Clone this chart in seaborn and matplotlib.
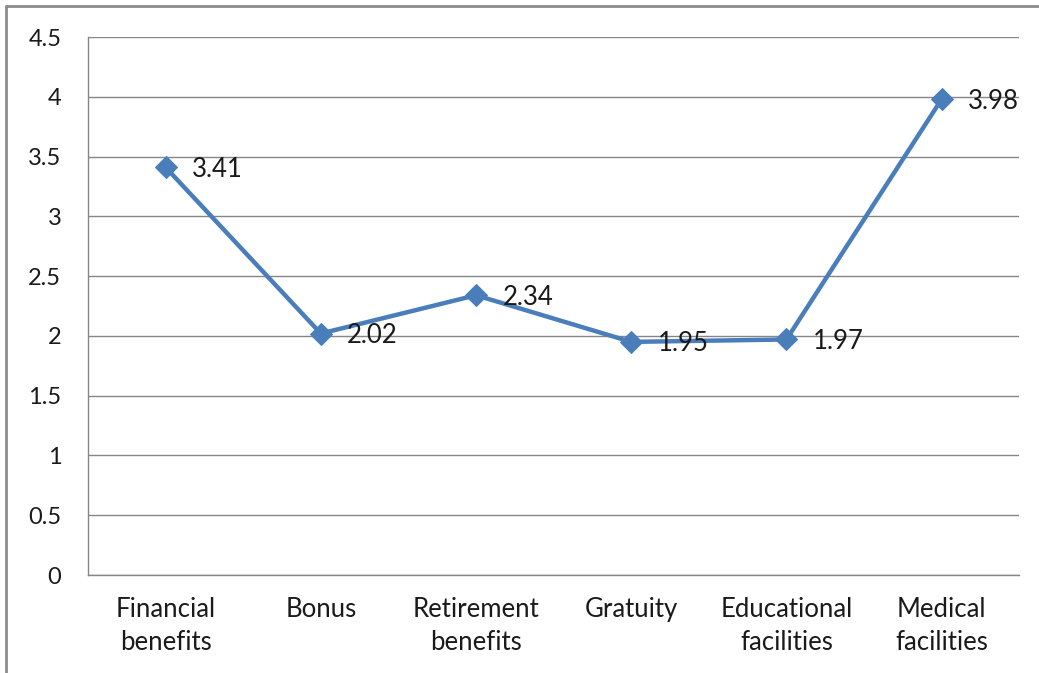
import matplotlib
matplotlib.use("Agg")
import matplotlib.pyplot as plt
import seaborn as sns
import pandas as pd
import numpy as np

# Werte aus dem Diagramm
categories = ["Financial\nbenefits", "Bonus", "Retirement\nbenefits", "Gratuity",
              "Educational\nfacilities", "Medical\nfacilities"]
scores = [3.41, 2.02, 2.34, 1.95, 1.97, 3.98]
y_ticks = [0, 0.5, 1, 1.5, 2, 2.5, 3, 3.5, 4, 4.5]
y_tick_labels = ["0", "0.5", "1", "1.5", "2", "2.5", "3", "3.5", "4", "4.5"]

df = pd.DataFrame({"category": categories, "score": scores})

sns.set_style("white")
plt.rcParams['font.family'] = ['Lato', 'DejaVu Sans']

line_color = "#4a7ebb"
grid_color = "#868686"
text_color = "#1a1a1a"
fs = 18.5

fig = plt.figure(figsize=(10.39, 6.73), dpi=100)
ax = fig.add_axes([0.0847, 0.1456, 0.8963, 0.7994])

sns.lineplot(data=df, x="category", y="score", ax=ax, color=line_color,
             linewidth=3.2, marker="D", markersize=11, markeredgecolor=line_color,
             sort=False)

ax.set_xlim(-0.5, len(categories) - 0.5)
ax.set_ylim(0, 4.5)
ax.set_yticks(y_ticks)
ax.set_yticklabels(y_tick_labels, fontsize=17, color=text_color)
ax.set_xticks(range(len(categories)))
ax.set_xticklabels(categories, fontsize=fs, color=text_color, linespacing=1.4)
ax.set_xticks(np.arange(-0.5, len(categories)), minor=True)
ax.tick_params(axis="x", which="major", length=0, pad=16)
ax.tick_params(axis="x", which="minor", length=5.8, color=grid_color, direction="out")
ax.tick_params(axis="y", length=7.2, color=grid_color, direction="out", pad=12)
ax.yaxis.grid(True, color=grid_color, linewidth=1)
ax.set_axisbelow(True)
ax.set_xlabel("")
ax.set_ylabel("")
for side in ["top", "right"]:
    ax.spines[side].set_visible(False)
for side in ["left", "bottom"]:
    ax.spines[side].set_color(grid_color)
    ax.spines[side].set_linewidth(1)

# Datenbeschriftungen rechts neben den Punkten
for i, v in enumerate(scores):
    ax.annotate(f"{v:.2f}", (i, v), xytext=(19, -1.5), textcoords="offset points",
                ha="left", va="center", fontsize=fs, color=text_color)

# Rahmen um das Diagramm (Excel-Stil)
fig.add_artist(plt.Line2D([0.006, 0.006], [0.0, 0.991], transform=fig.transFigure,
                          color="#8c8c8c", linewidth=2))
fig.add_artist(plt.Line2D([0.006, 1.0], [0.991, 0.991], transform=fig.transFigure,
                          color="#8c8c8c", linewidth=2))

fig.savefig("out.png", dpi=100)
